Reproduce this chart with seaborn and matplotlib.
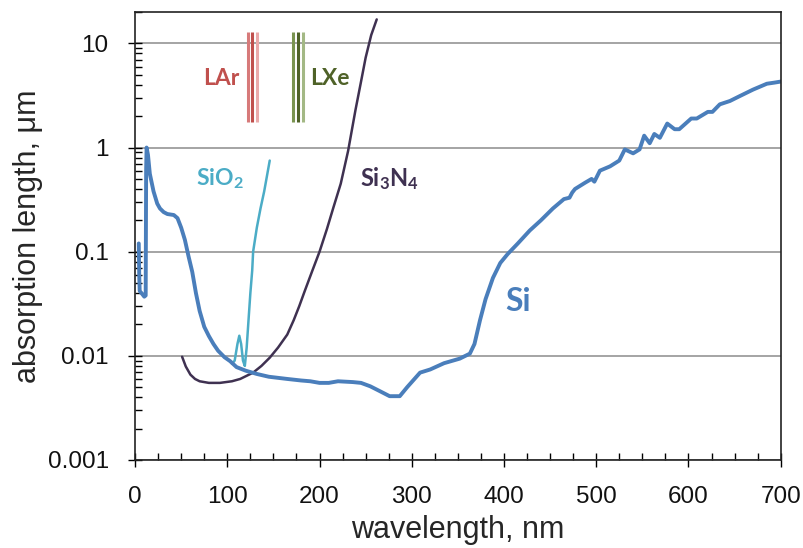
import numpy as np
import pandas as pd
import matplotlib
matplotlib.use("Agg")
import matplotlib.pyplot as plt
import matplotlib.ticker as mticker
import seaborn as sns

# ---------------- data ----------------
si_wl = [4, 4.5, 5, 7, 10, 11.5, 12, 12.5, 14, 16, 20, 24, 27, 31, 35, 42, 46, 50, 54, 58,
         62, 66, 70, 75, 80, 85, 90, 97, 103, 110, 120, 132, 145, 165, 180, 190, 200, 210,
         220, 236, 245, 255, 265, 276, 287, 295, 309, 320, 335, 352, 363, 368, 374, 380,
         388, 396, 404, 415, 428, 440, 453, 465, 471, 474, 477, 488, 495, 498, 504, 515,
         525, 531, 540, 547, 552, 558, 563, 569, 577, 585, 590, 603, 609, 621, 626, 634,
         645, 655, 670, 685, 693, 700]
si_len = [0.12, 0.06, 0.042, 0.04, 0.037, 0.038, 0.6, 1.0, 0.85, 0.56, 0.38, 0.29, 0.26,
          0.24, 0.23, 0.225, 0.21, 0.17, 0.13, 0.09, 0.064, 0.04, 0.027, 0.019, 0.0155,
          0.013, 0.0112, 0.0097, 0.0089, 0.0078, 0.0072, 0.0067, 0.0063, 0.006, 0.0058,
          0.0057, 0.0055, 0.0055, 0.0057, 0.0056, 0.0055, 0.0051, 0.0046, 0.0041, 0.0041,
          0.005, 0.0069, 0.0074, 0.0085, 0.0094, 0.0105, 0.013, 0.022, 0.035, 0.056,
          0.078, 0.095, 0.12, 0.16, 0.2, 0.26, 0.32, 0.33, 0.37, 0.40, 0.46, 0.5, 0.47,
          0.6, 0.66, 0.75, 0.96, 0.88, 0.96, 1.3, 1.1, 1.35, 1.24, 1.7, 1.5, 1.5, 1.9,
          1.9, 2.2, 2.2, 2.6, 2.8, 3.1, 3.6, 4.1, 4.2, 4.3]

sio2_wl = [105, 108, 111, 113, 115, 117, 119, 121, 123, 125, 127, 128, 132, 136, 140, 146]
sio2_len = [0.0084, 0.009, 0.013, 0.0156, 0.013, 0.009, 0.008, 0.012, 0.022, 0.04, 0.066,
            0.1, 0.17, 0.26, 0.38, 0.75]

sin_wl = [51, 55, 60, 65, 70, 80, 92, 105, 114, 122, 128, 137, 146, 155, 165, 172, 178,
          184, 192, 200, 208, 215, 223, 231, 239, 245, 250, 256, 262]
sin_len = [0.0098, 0.0079, 0.0066, 0.006, 0.0057, 0.0055, 0.0055, 0.0057, 0.006, 0.0065,
           0.0069, 0.008, 0.0096, 0.012, 0.016, 0.022, 0.03, 0.042, 0.065, 0.1, 0.165,
           0.265, 0.45, 0.93, 2.3, 4.3, 7.3, 12.0, 17.0]

lar_lines = [122, 127, 132]
lar_colors = ["#d77a7a", "#c0504d", "#eaa9a9"]
lxe_lines = [171, 176.5, 182]
lxe_colors = ["#7a9450", "#4f6228", "#a3b884"]
band_ymin, band_ymax = 1.75, 13

y_ticks = [0.001, 0.01, 0.1, 1, 10]
y_tick_labels = ["0.001", "0.01", "0.1", "1", "10"]
x_ticks = [0, 100, 200, 300, 400, 500, 600, 700]

# ---------------- style ----------------
sns.set_style("white")
plt.rcParams["font.family"] = ["Liberation Sans", "DejaVu Sans"]
plt.rcParams["mathtext.fontset"] = "custom"
plt.rcParams["mathtext.default"] = "regular"

fig = plt.figure(figsize=(8.04, 5.48), dpi=100)
ax = fig.add_axes([0.168, 0.1606, 0.803, 0.8174])

ax.set_yscale("log")
ax.set_ylim(0.001, 20)
ax.set_xlim(0, 700)
ax.yaxis.grid(True, which="major", color="#8c8c8c", lw=1.1)
ax.set_axisbelow(True)

df_si = pd.DataFrame({"wl": si_wl, "len": si_len})
df_sio2 = pd.DataFrame({"wl": sio2_wl, "len": sio2_len})
df_sin = pd.DataFrame({"wl": sin_wl, "len": sin_len})

sns.lineplot(data=df_sin, x="wl", y="len", ax=ax, color="#3f3151", lw=1.8, sort=False)
sns.lineplot(data=df_sio2, x="wl", y="len", ax=ax, color="#4bacc6", lw=1.8, sort=False)
sns.lineplot(data=df_si, x="wl", y="len", ax=ax, color="#4a7ebb", lw=2.8, sort=False)

for xv, c in zip(lar_lines, lar_colors):
    ax.vlines(xv, band_ymin, band_ymax, color=c, lw=2.2)
for xv, c in zip(lxe_lines, lxe_colors):
    ax.vlines(xv, band_ymin, band_ymax, color=c, lw=2.2)

lab_font = dict(family=["Lato", "DejaVu Sans"], fontweight="bold")
ax.text(93, 4.6, "LAr", color="#c0504d", fontsize=16.5, ha="center", va="center", **lab_font)
ax.text(211, 4.6, "LXe", color="#4f6228", fontsize=16.5, ha="center", va="center", **lab_font)
ax.text(92, 0.5, "SiO$_2$", color="#4bacc6", fontsize=16.5, ha="center", va="center", **lab_font)
ax.text(276, 0.5, "Si$_3$N$_4$", color="#3f3151", fontsize=17, ha="center", va="center", **lab_font)
ax.text(415, 0.033, "Si", color="#4a7ebb", fontsize=23, ha="center", va="center", **lab_font)

ax.set_yticks(y_ticks)
ax.yaxis.set_major_formatter(mticker.FixedFormatter(y_tick_labels))
ax.yaxis.set_minor_locator(mticker.LogLocator(base=10, subs=np.arange(2, 10)))
ax.yaxis.set_minor_formatter(mticker.NullFormatter())
ax.set_xticks(x_ticks)
ax.xaxis.set_minor_locator(mticker.MultipleLocator(25))

ax.tick_params(which="major", direction="inout", length=10, width=1, color="black",
               labelsize=17.5, labelcolor="#111111", left=True, bottom=True)
ax.tick_params(axis="x", which="major", pad=14)
ax.tick_params(axis="y", which="major", pad=14)
ax.tick_params(which="minor", direction="in", length=5, width=1, color="black",
               left=True, bottom=True)

for s in ax.spines.values():
    s.set_visible(True)
    s.set_color("#222222")
    s.set_linewidth(1.2)

ax.set_xlabel("wavelength, nm", fontsize=22, labelpad=5)
ax.set_ylabel("absorption length, μm", fontsize=22, labelpad=3)

fig.savefig("out.png", dpi=100)
